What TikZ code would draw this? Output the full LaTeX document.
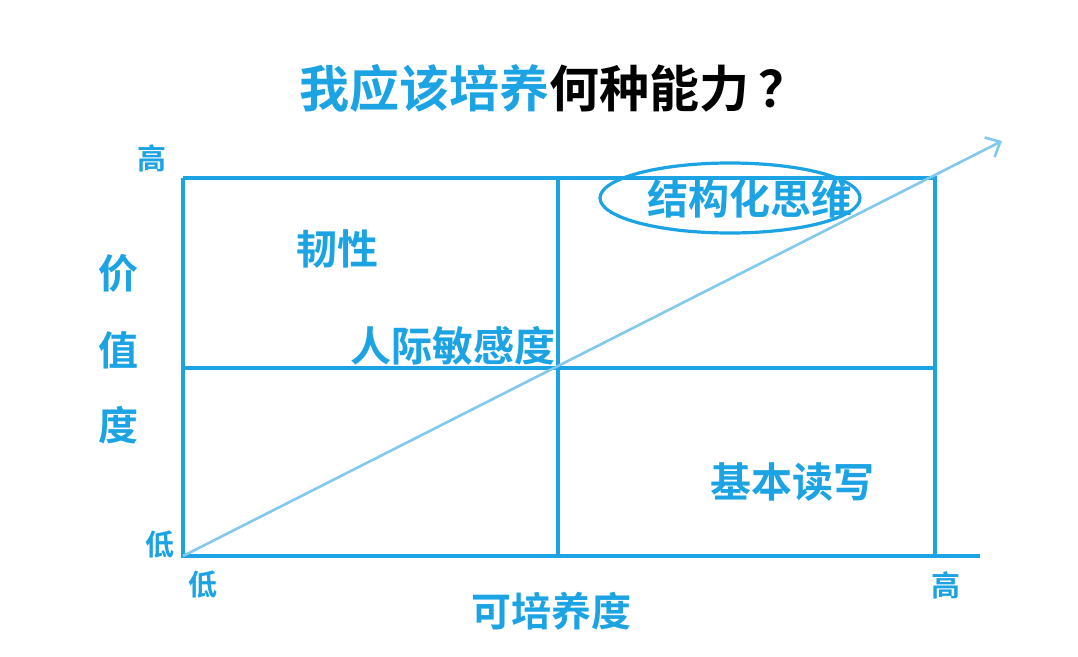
\documentclass[tikz,border=0pt]{standalone}
\usepackage{fontspec}
\setmainfont{Noto Sans CJK SC}[BoldFont={Noto Sans CJK SC Bold}]
\usetikzlibrary{arrows.meta, positioning}
\definecolor{gridblue}{HTML}{1CA3E3}
\definecolor{diagblue}{HTML}{82C8EF}

\begin{document}
\begin{tikzpicture}[
        x=1pt, y=-1pt,
        font=\bfseries,
        grid/.style={draw=gridblue, line width=3.6pt},
        diag/.style={draw=diagblue, line width=2.6pt, -{Straight Barb[length=12pt, width=22pt, line width=2.6pt]}},
        cell/.style={text=gridblue, inner sep=0pt, font=\bfseries\fontsize{41}{41}\selectfont},
        tick/.style={text=gridblue, inner sep=0pt, font=\bfseries\fontsize{29}{29}\selectfont},
        axis/.style={text=gridblue, inner sep=0pt, font=\bfseries\fontsize{40}{40}\selectfont}
    ]
    \useasboundingbox[fill=white] (0,0) rectangle (1078,656);

    % grid corners
    \coordinate (sw) at (183,556);
    \coordinate (se) at (935,556);
    \coordinate (nw) at (183,178);
    \coordinate (ne) at (935,178);
    \coordinate (n) at (558,178);
    \coordinate (s) at (558,556);
    \coordinate (w) at (183,368);
    \coordinate (e) at (935,368);
    \coordinate (xend) at (980,556);
    \coordinate (tip) at (1002,141);

    % title
    \node[inner sep=0pt, font=\bfseries\fontsize{50}{50}\selectfont] (title) at (554,88)
        {\textcolor{gridblue}{我应该培养}何种能力\,？};

    % grid
    \draw[grid] (nw) -- (sw) -- (xend);
    \draw[grid] (nw) -- (ne) -- (se);
    \draw[grid] (n) -- (s);
    \draw[grid] (w) -- (e);

    % cells
    \node[cell] (resil) at (337,249) {韧性};
    \node[cell] (social) at (453,346) {人际敏感度};
    \node[cell] (struct) at (750,199) {结构化思维};
    \node[cell] (basic) at (792,482) {基本读写};
    \draw[gridblue, line width=3.2pt] (730,198) ellipse [x radius=130, y radius=35];

    % diagonal
    \draw[diag] (sw) -- (tip);

    % axes
    \node[tick] (yhigh) at (152,158) {高};
    \node[tick] (ylow) at (160,545) {低};
    \node[tick] (xlow) at (203,585) {低};
    \node[tick] (xhigh) at (946,585) {高};
    \node[axis] (yval1) at (118,273) {价};
    \node[axis] (yval2) at (118,350) {值};
    \node[axis] (yval3) at (118,425) {度};
    \node[axis] (xlabel) at (551,611) {可培养度};

\end{tikzpicture}
\end{document}
